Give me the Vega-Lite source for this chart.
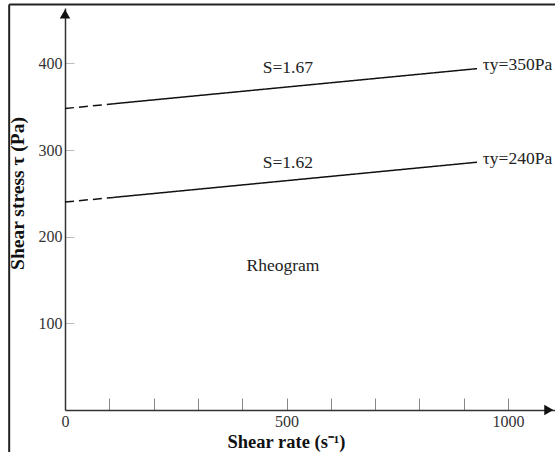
{
  "$schema": "https://vega.github.io/schema/vega-lite/v6.json",
  "width": 490,
  "height": 402,
  "autosize": {"type": "none"},
  "padding": {"left": 65, "top": 8, "right": 0, "bottom": 42},
  "background": "white",
  "config": {
    "view": {"stroke": null},
    "font": "Liberation Serif",
    "axis": {"grid": false}
  },
  "datasets": {
    "lines": [
      {"curve": "upper", "part": "dashed", "x": 0, "y": 348},
      {"curve": "upper", "part": "dashed", "x": 110, "y": 353.5},
      {"curve": "upper", "part": "solid", "x": 110, "y": 353.5},
      {"curve": "upper", "part": "solid", "x": 930, "y": 394},
      {"curve": "lower", "part": "dashed", "x": 0, "y": 240},
      {"curve": "lower", "part": "dashed", "x": 110, "y": 245.4},
      {"curve": "lower", "part": "solid", "x": 110, "y": 245.4},
      {"curve": "lower", "part": "solid", "x": 930, "y": 286}
    ],
    "frame": [
      {"x": -126, "y": 468, "x2": 1300, "y2": 468},
      {"x": -126, "y": 468, "x2": -126, "y2": -80}
    ],
    "arrows": [
      {"x": 1092, "y": 0, "shape": "triangle-right"},
      {"x": 0, "y": 457, "shape": "triangle-up"}
    ],
    "centerLabels": [
      {"x": 503, "y": 394.7, "text": "S=1.67"},
      {"x": 503, "y": 285, "text": "S=1.62"},
      {"x": 492, "y": 166, "text": "Rheogram"}
    ],
    "leftLabels": [
      {"x": 943, "y": 398, "text": "τy=350Pa"},
      {"x": 943, "y": 290, "text": "τy=240Pa"}
    ]
  },
  "layer": [
    {
      "data": {"name": "lines"},
      "mark": {"type": "line", "color": "#111", "strokeWidth": 1.5},
      "encoding": {
        "x": {
          "field": "x",
          "type": "quantitative",
          "scale": {"domain": [0, 1106], "nice": false, "zero": false},
          "axis": {
            "values": [0, 100, 200, 300, 400, 500, 600, 700, 800, 900, 1000],
            "format": "d",
            "labelExpr": "datum.value % 500 === 0 ? datum.label : ''",
            "tickSize": -12,
            "tickColor": "#888",
            "tickWidth": 1,
            "domainColor": "#333",
            "domainWidth": 1.5,
            "labelFontSize": 16,
            "labelColor": "#333",
            "labelFlush": false,
            "labelOverlap": false,
            "labelBound": false,
            "labelPadding": 15,
            "title": "Shear rate (s⁻¹)",
            "titleFontSize": 18.5,
            "titleFontWeight": "bold",
            "titleColor": "#111",
            "titleX": 221,
            "titleY": 31.5,
            "titleBaseline": "middle"
          }
        },
        "y": {
          "field": "y",
          "type": "quantitative",
          "scale": {"domain": [0, 464], "nice": false, "zero": false},
          "axis": {
            "values": [100, 200, 300, 400],
            "format": "d",
            "tickSize": -9,
            "tickColor": "#bbb",
            "domainColor": "#333",
            "domainWidth": 1.5,
            "labelFontSize": 16,
            "labelColor": "#333",
            "labelFlush": false,
            "labelOverlap": false,
            "labelBound": false,
            "labelPadding": 12,
            "title": "Shear stress τ (Pa)",
            "titleFontSize": 19.5,
            "titleFontWeight": "bold",
            "titleColor": "#111",
            "titleX": -48,
            "titleY": 185,
            "titleBaseline": "middle"
          }
        },
        "detail": {"field": "curve"},
        "strokeDash": {
          "field": "part",
          "type": "nominal",
          "scale": {"domain": ["dashed", "solid"], "range": [[9, 5], [1, 0]]},
          "legend": null
        }
      }
    },
    {
      "data": {"name": "frame"},
      "mark": {"type": "rule", "color": "#222", "strokeWidth": 2, "clip": false},
      "encoding": {
        "x": {"field": "x", "type": "quantitative"},
        "y": {"field": "y", "type": "quantitative"},
        "x2": {"field": "x2"},
        "y2": {"field": "y2"}
      }
    },
    {
      "data": {"name": "arrows"},
      "mark": {"type": "point", "filled": true, "color": "#111", "opacity": 1, "size": 110, "clip": false},
      "encoding": {
        "x": {"field": "x", "type": "quantitative"},
        "y": {"field": "y", "type": "quantitative"},
        "shape": {"field": "shape", "type": "nominal", "scale": null}
      }
    },
    {
      "data": {"name": "centerLabels"},
      "mark": {"type": "text", "align": "center", "baseline": "middle", "fontSize": 17.5, "color": "#222", "font": "Liberation Serif"},
      "encoding": {
        "x": {"field": "x", "type": "quantitative"},
        "y": {"field": "y", "type": "quantitative"},
        "text": {"field": "text"}
      }
    },
    {
      "data": {"name": "leftLabels"},
      "mark": {"type": "text", "align": "left", "baseline": "middle", "fontSize": 17.5, "color": "#222", "font": "Liberation Serif", "clip": false},
      "encoding": {
        "x": {"field": "x", "type": "quantitative"},
        "y": {"field": "y", "type": "quantitative"},
        "text": {"field": "text"}
      }
    }
  ]
}
